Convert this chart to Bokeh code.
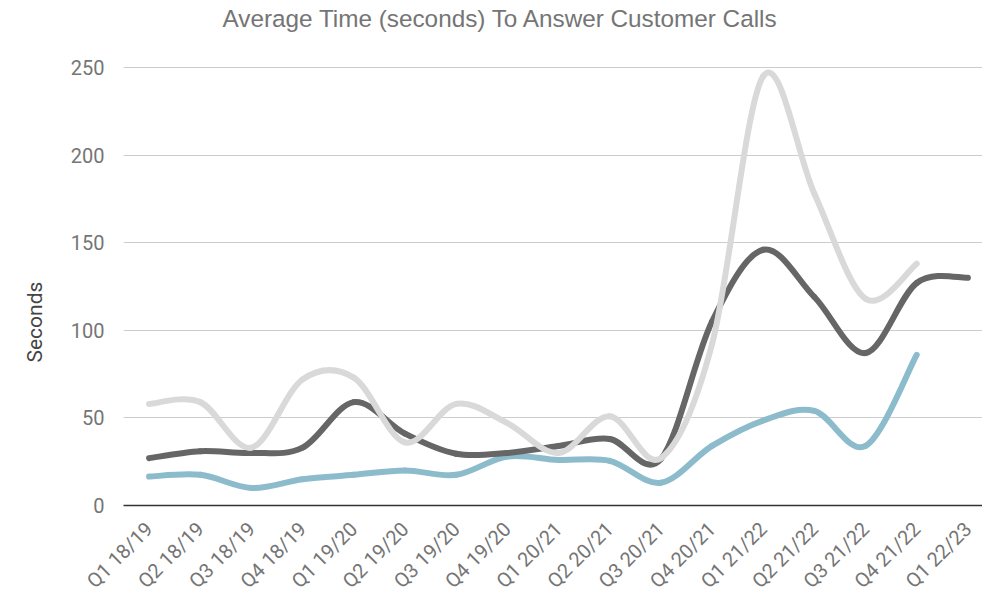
import math
from bokeh.plotting import figure
from bokeh.models import Range1d, FixedTicker, Title, Label
from bokeh.embed import file_html
from bokeh.resources import INLINE

categories = ["Q1 18/19", "Q2 18/19", "Q3 18/19", "Q4 18/19", "Q1 19/20", "Q2 19/20",
              "Q3 19/20", "Q4 19/20", "Q1 20/21", "Q2 20/21", "Q3 20/21", "Q4 20/21",
              "Q1 21/22", "Q2 21/22", "Q3 21/22", "Q4 21/22", "Q1 22/23"]
series_light = [58, 59, 33, 72, 73, 36, 58, 47, 30, 51, 27, 92, 245, 178, 118, 138]
series_dark = [27, 31, 30, 33, 59, 41, 29.5, 30, 34, 38, 26.5, 105, 146, 119, 87, 127, 130]
series_blue = [16.5, 17.5, 10, 15, 17.5, 20, 17.5, 28, 26, 25.5, 13, 34, 48.5, 54, 34, 86]
y_ticks = [0, 50, 100, 150, 200, 250]

TEXT = "#757575"
PX_PER_UNIT = 438 / 250.0          # vertical scale of the reference
Y_TOP = 505 / PX_PER_UNIT          # frame extends to the top of the canvas (room for the title)

p = figure(width=982, height=593, frame_width=870, frame_height=505,
           output_backend="svg", toolbar_location=None,
           x_range=Range1d(-0.5, 16.5), y_range=Range1d(0, Y_TOP),
           min_border_left=112, min_border_top=0, min_border_right=0, min_border_bottom=10)
p.outline_line_color = None
p.background_fill_color = "white"

def smooth(ys):
    n = len(ys)
    xs = list(range(n))
    x0, y0, x1, y1, cx0, cy0, cx1, cy1 = [], [], [], [], [], [], [], []
    for i in range(n - 1):
        pm = max(i - 1, 0)
        pn = min(i + 2, n - 1)
        x0.append(xs[i]); y0.append(ys[i])
        x1.append(xs[i + 1]); y1.append(ys[i + 1])
        cx0.append(xs[i] + (xs[i + 1] - xs[pm]) / 6.0)
        cy0.append(ys[i] + (ys[i + 1] - ys[pm]) / 6.0)
        cx1.append(xs[i + 1] - (xs[pn] - xs[i]) / 6.0)
        cy1.append(ys[i + 1] - (ys[pn] - ys[i]) / 6.0)
    return dict(x0=x0, y0=y0, x1=x1, y1=y1, cx0=cx0, cy0=cy0, cx1=cx1, cy1=cy1)

for ys, col in [(series_blue, "#8cbccc"), (series_dark, "#666666"), (series_light, "#d9d9d9")]:
    d = smooth(ys)
    p.bezier(x0=d["x0"], y0=d["y0"], x1=d["x1"], y1=d["y1"],
             cx0=d["cx0"], cy0=d["cy0"], cx1=d["cx1"], cy1=d["cy1"],
             line_color=col, line_width=6, line_cap="round")

# axes
p.xaxis.ticker = FixedTicker(ticks=list(range(len(categories))))
p.xaxis.major_label_overrides = {i: c for i, c in enumerate(categories)}
p.xaxis.major_label_orientation = math.pi / 4
p.xaxis.major_tick_line_color = None
p.xaxis.minor_tick_line_color = None
p.xaxis.axis_line_color = "#333333"
p.xaxis.axis_line_width = 1.5
p.xaxis.major_label_text_font = "Roboto"
p.xaxis.major_label_text_font_size = "20px"
p.xaxis.major_label_text_color = TEXT
p.xaxis.major_label_standoff = 14
p.xgrid.grid_line_color = None

p.yaxis.ticker = FixedTicker(ticks=y_ticks)
p.yaxis.axis_line_color = None
p.yaxis.major_tick_line_color = None
p.yaxis.minor_tick_line_color = None
p.yaxis.major_label_text_font = "Roboto"
p.yaxis.major_label_text_font_size = "20px"
p.yaxis.major_label_text_color = TEXT
p.yaxis.major_label_standoff = 13
p.ygrid.grid_line_color = "#cccccc"
p.ygrid.grid_line_width = 1.2

title = Label(x=6.87, y=(505 - 18) / PX_PER_UNIT,
              text="Average Time (seconds) To Answer Customer Calls",
              text_font="Liberation Sans", text_font_size="24.3px", text_color=TEXT,
              text_align="center", text_baseline="middle")
p.add_layout(title)

ylab = Title(text="Seconds", align="left", offset=143, standoff=41,
             text_font="Roboto", text_font_size="21px", text_font_style="normal",
             text_color="#444444")
p.add_layout(ylab, "left")

open("out.html", "w").write(file_html(p, INLINE))
